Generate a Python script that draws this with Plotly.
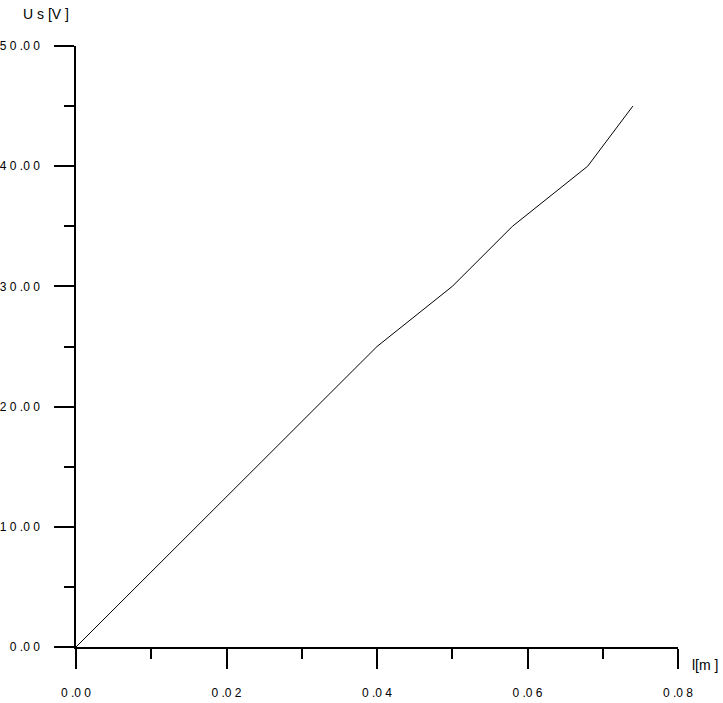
import plotly.graph_objects as go

# %% data
length_m = [0.0, 0.028, 0.040, 0.050, 0.054, 0.058, 0.068, 0.074]
voltage_v = [0.0, 17.5, 25.0, 30.0, 32.5, 35.0, 40.0, 45.0]

x_tick_vals = [0.00, 0.02, 0.04, 0.06, 0.08]
x_tick_text = ["0 .0 0", "0 .0 2", "0 .0 4", "0 .0 6", "0 .0 8"]
y_tick_vals = [0, 10, 20, 30, 40, 50]
y_tick_text = ["0 .0 0", "1 0 .0 0", "2 0 .0 0", "3 0 .0 0", "4 0 .0 0", "5 0 .0 0"]

FONT = "Liberation Sans, Arial, sans-serif"

# %% figure
fig = go.Figure(
    go.Scatter(
        x=length_m,
        y=voltage_v,
        mode="lines",
        line=dict(color="black", width=1),
        showlegend=False,
    )
)

axis_common = dict(
    showline=True,
    linecolor="black",
    linewidth=1.5,
    showgrid=False,
    zeroline=False,
    automargin=False,
    ticks="outside",
    ticklen=20,
    tickwidth=1.5,
    tickcolor="black",
    tickfont=dict(family=FONT, size=12, color="black"),
)

fig.update_xaxes(
    range=[0, 0.08],
    tickvals=x_tick_vals,
    ticktext=x_tick_text,
    ticklabelstandoff=14,
    minor=dict(dtick=0.01, ticks="outside", ticklen=10, tickwidth=1.5, tickcolor="black"),
    **axis_common,
)
fig.update_yaxes(
    range=[0, 50],
    tickvals=y_tick_vals,
    ticktext=y_tick_text,
    ticklabelstandoff=12,
    minor=dict(dtick=5, ticks="outside", ticklen=10, tickwidth=1.5, tickcolor="black"),
    **axis_common,
)

fig.add_annotation(text="U s [V ]", xref="paper", yref="paper", x=-0.092, y=1.053,
                   showarrow=False, xanchor="left", yanchor="middle",
                   font=dict(family=FONT, size=14, color="black"))
fig.add_annotation(text="l[m ]", xref="paper", yref="paper", x=1.02, y=-0.03,
                   showarrow=False, xanchor="left", yanchor="middle",
                   font=dict(family=FONT, size=14, color="black"))

fig.update_layout(
    width=723,
    height=703,
    plot_bgcolor="white",
    paper_bgcolor="white",
    margin={"l": 76, "r": 45, "t": 46, "b": 56},
)

# page body has a default 8px margin; drop it so the figure sits at the corner
fig.write_html("out.html", config={"displayModeBar": False},
               post_script="document.body.style.margin='0';")
